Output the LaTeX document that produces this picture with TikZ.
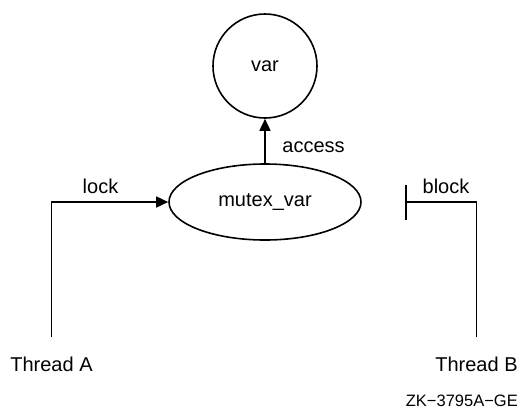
\documentclass[tikz,border=0pt]{standalone}
\usepackage{fontspec}
\setmainfont{Liberation Sans}
\usetikzlibrary{shapes.geometric,arrows.meta}
\begin{document}
\begin{tikzpicture}[x=1pt,y=-1pt,
  lbl/.style={inner sep=0pt,font=\fontsize{20}{24}\selectfont},
  shapebox/.style={draw,line width=1.6pt,inner sep=0pt,font=\fontsize{20}{24}\selectfont},
  conn/.style={line width=1.6pt},
  arr/.style={conn,-{Triangle[length=12pt,width=11pt]}},
  blockend/.style={conn,-{Bar[width=35pt,line width=1.6pt]}}]
\useasboundingbox (0,0) rectangle (519,408);
\node[shapebox,circle,minimum size=104pt] (var) at (265,66) {var};
\node[shapebox,ellipse,minimum width=192pt,minimum height=76pt] (mutex) at (265,202) {mutex\_var};
\node[lbl,anchor=base] (tA) at (51.5,371) {Thread A};
\node[lbl,anchor=base] (tB) at (476.5,371) {Thread B};
\coordinate (blk) at (405,202);
\draw[arr] (mutex.north) -- (var.south);
\draw[arr] ([yshift=19pt]tA.north) |- (mutex.west);
\draw[blockend] ([yshift=19pt]tB.north) |- (blk);
\node[lbl,anchor=base] (lockl) at (100.5,193) {lock};
\node[lbl,anchor=base] (blockl) at (446,193) {block};
\node[lbl,anchor=base] (accessl) at (313.5,152) {access};
\node[inner sep=0pt,anchor=base east,font=\fontsize{16.5}{20}\selectfont] (zk) at (518,406) {ZK\char"2212 3795A\char"2212 GE};
\end{tikzpicture}
\end{document}
